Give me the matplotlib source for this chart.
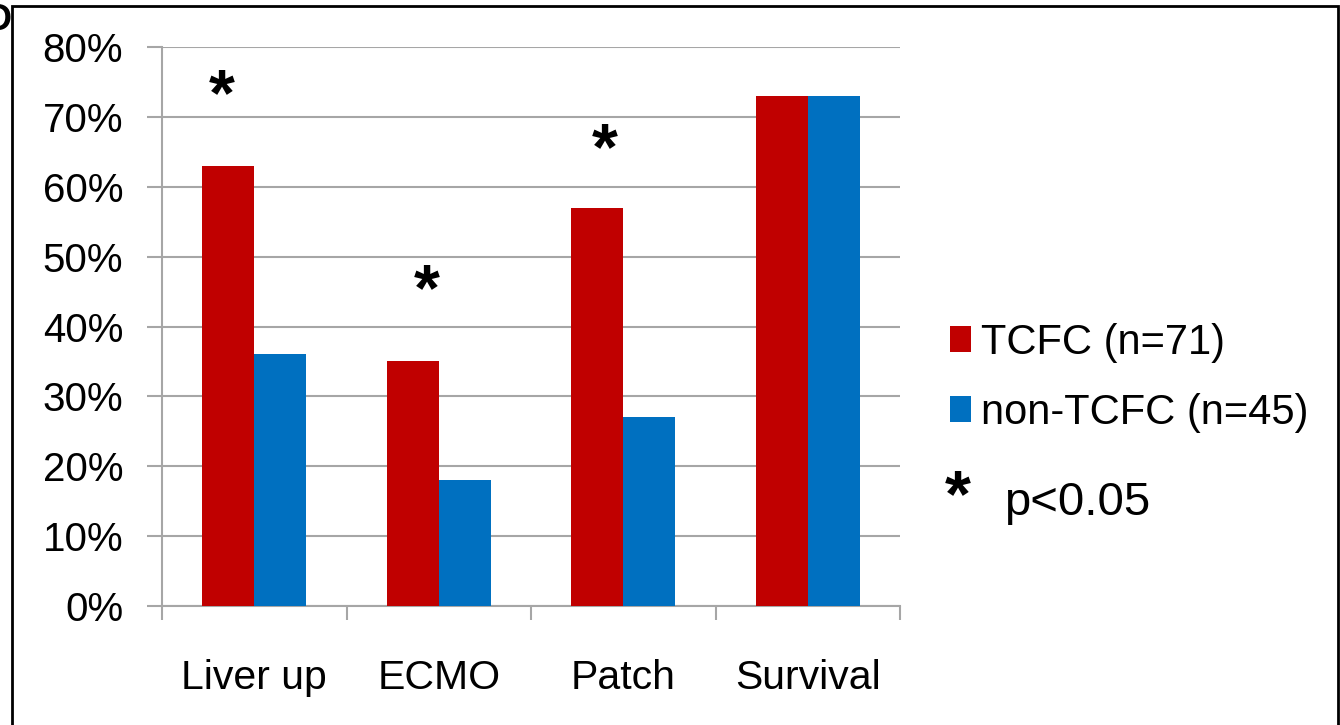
import numpy as np
import matplotlib
matplotlib.use("Agg")
import matplotlib.pyplot as plt
from matplotlib.patches import Rectangle, Patch

plt.rcParams['font.family'] = ['Liberation Sans', 'DejaVu Sans']

# Data
categories = ["Liver up", "ECMO", "Patch", "Survival"]
tcfc = [0.63, 0.35, 0.57, 0.73]
non_tcfc = [0.36, 0.18, 0.27, 0.73]
yticks = [0, 0.1, 0.2, 0.3, 0.4, 0.5, 0.6, 0.7, 0.8]
ytick_labels = ["0%", "10%", "20%", "30%", "40%", "50%", "60%", "70%", "80%"]
legend_labels = ["TCFC (n=71)", "non-TCFC (n=45)"]
significant = ["Liver up", "ECMO", "Patch"]

RED = "#C00000"
BLUE = "#0070C0"
GRID = "#A6A6A6"

fig = plt.figure(figsize=(13.4, 7.25), dpi=100)
ax = fig.add_axes([162 / 1340, 1 - 606 / 725, (900 - 162) / 1340, (606 - 47) / 725])

x = np.arange(len(categories))
w = 0.282
ax.bar(x - w / 2, tcfc, w, color=RED, zorder=3)
ax.bar(x + w / 2, non_tcfc, w, color=BLUE, zorder=3)

ax.set_xlim(-0.5, len(categories) - 0.5)
ax.set_ylim(0, 0.8)
ax.set_yticks(yticks)
ax.set_yticklabels(ytick_labels, fontsize=29)
ax.grid(axis='y', color=GRID, linewidth=1.5, zorder=0)
ax.tick_params(axis='y', length=11, width=1.5, color=GRID, pad=17)

ax.set_xticks(x)
ax.set_xticklabels(categories, fontsize=29.5)
ax.tick_params(axis='x', which='major', length=0, pad=38)
ax.set_xticks(np.arange(len(categories) + 1) - 0.5, minor=True)
ax.tick_params(axis='x', which='minor', length=10, width=1.5, color=GRID)

for side in ['top', 'right']:
    ax.spines[side].set_visible(False)
for side in ['left', 'bottom']:
    ax.spines[side].set_color(GRID)
    ax.spines[side].set_linewidth(1.5)

# significance stars
star_offsets = {"Liver up": (-0.175, 0.072), "ECMO": (-0.065, 0.074), "Patch": (-0.10, 0.055)}
for cat in significant:
    i = categories.index(cat)
    dx, dy = star_offsets[cat]
    ax.text(i + dx, tcfc[i] + dy, "*", fontsize=48, fontweight='bold',
            ha='center', va='baseline', zorder=4)

handles = [Patch(facecolor=RED), Patch(facecolor=BLUE)]
fig.legend(handles, legend_labels, loc='upper left',
           bbox_to_anchor=(933 / 1340, 1 - 306 / 725), frameon=False,
           fontsize=30, handlelength=0.5, handleheight=0.6,
           handletextpad=0.25, labelspacing=0.72, borderaxespad=0)
fig.text(958 / 1340, 1 - 516 / 725, "*", fontsize=48, fontweight='bold',
         ha='center', va='baseline')
fig.text(1004 / 1340, 1 - 503 / 725, "p<0.05", fontsize=34,
         ha='left', va='center')

# panel frame and cropped panel letter
fig.patches.append(Rectangle((12.5 / 1340, -0.05), (1338 - 12.5) / 1340, 1.05 - 6 / 725,
                             transform=fig.transFigure, fill=False,
                             edgecolor='black', linewidth=2, clip_on=False))
fig.text(-14 / 1340, 1 - 20 / 725, "D", fontsize=26, fontweight='bold',
         ha='left', va='center')

fig.savefig("out.png", dpi=100)
